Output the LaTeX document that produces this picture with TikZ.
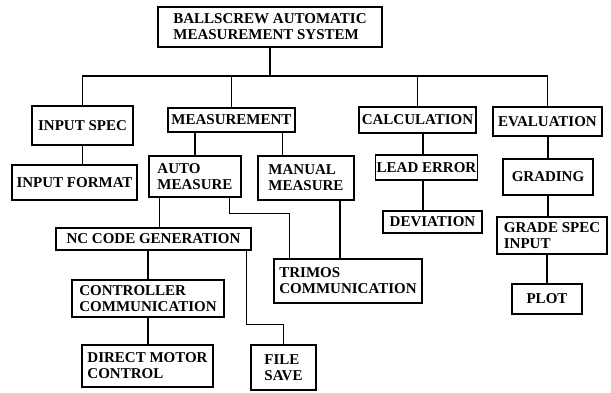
\documentclass[tikz,border=0pt]{standalone}
\usepackage{fontspec}
\setmainfont{Liberation Serif}
\usepackage{tikz}
\usetikzlibrary{calc}

\begin{document}
\begin{tikzpicture}[x=1pt,y=-1pt,font=\bfseries\fontsize{15}{16}\selectfont,line width=1.2pt,
	box/.style={draw,align=left,inner sep=1.5pt}]
	\useasboundingbox (0,0) rectangle (611,392);
	\node[box,minimum width=224,minimum height=40] (ballscrew) at (270,27) {BALLSCREW AUTOMATIC\\MEASUREMENT SYSTEM};
	\node[box,minimum width=101,minimum height=39] (inputspec) at (82.5,125.5) {INPUT SPEC};
	\node[box,minimum width=127,minimum height=24] (measurement) at (231.5,120) {MEASUREMENT};
	\node[box,minimum width=117,minimum height=26] (calculation) at (417.5,120) {CALCULATION};
	\node[box,minimum width=109,minimum height=29] (evaluation) at (547.5,121.5) {EVALUATION};
	\node[box,minimum width=125,minimum height=35] (inputformat) at (74.5,182.5) {INPUT FORMAT};
	\node[box,minimum width=92,minimum height=41] (automeasure) at (195,176.5) {AUTO\\MEASURE};
	\node[box,minimum width=96,minimum height=44] (manualmeasure) at (306,178) {MANUAL\\MEASURE};
	\node[box,minimum width=99,minimum height=25] (leaderror) at (426.5,167.5) {LEAD ERROR};
	\node[box,minimum width=90,minimum height=36] (grading) at (548,177) {GRADING};
	\node[box,minimum width=99,minimum height=22] (deviation) at (432.5,222) {DEVIATION};
	\node[box,minimum width=110,minimum height=37] (gradespec) at (552,235.5) {GRADE SPEC\\INPUT};
	\node[box,minimum width=70,minimum height=30] (plot) at (547,299) {PLOT};
	\node[box,minimum width=148,minimum height=44] (trimos) at (348,281) {TRIMOS\\COMMUNICATION};
	\node[box,minimum width=195,minimum height=22] (nccode) at (153.5,239) {NC CODE GENERATION};
	\node[box,minimum width=152,minimum height=37] (controller) at (148,298.5) {CONTROLLER\\COMMUNICATION};
	\node[box,minimum width=131,minimum height=42] (motor) at (147.5,366) {DIRECT MOTOR\\CONTROL};
	\node[box,minimum width=65,minimum height=45] (filesave) at (283.5,367.5) {FILE\\SAVE};
	% tree lines
	\coordinate (bus) at (0,76);
	\coordinate (meas2) at ([xshift=-13pt]measurement.south east);
	\coordinate (manual2) at ([xshift=-8pt]trimos.north);
	\coordinate (auto1) at ([xshift=11pt]automeasure.south west);
	\coordinate (auto2) at ([xshift=-12pt]automeasure.south east);
	\coordinate (trimos2) at ([xshift=16pt]trimos.north west);
	\coordinate (nc2) at ([xshift=-5pt]nccode.south east);
	\coordinate (calc1) at ([xshift=5.5pt]calculation.south);
	\coordinate (lead1) at ([xshift=-3.5pt]leaderror.south);
	\draw (ballscrew.south)--(ballscrew.south |- bus);
	\draw (inputspec.north)--(inputspec.north |- bus)--(evaluation.north |- bus)--(evaluation.north);
	\draw (measurement.north)--(measurement.north |- bus);
	\draw (calculation.north)--(calculation.north |- bus);
	\draw (inputspec.south)--(inputspec.south |- inputformat.north);
	\draw (automeasure.north)--(automeasure.north |- measurement.south);
	\draw (meas2)--(meas2 |- manualmeasure.north);
	\draw (manual2)--(manual2 |- manualmeasure.south);
	\draw (auto2)--++(0,16)-|(trimos2);
	\draw (auto1)--(auto1 |- nccode.north);
	\draw (controller.north)--(controller.north |- nccode.south);
	\draw (controller.south)--(controller.south |- motor.north);
	\draw (nc2)--++(0,74)-|(filesave.north);
	\draw (calc1)--(calc1 |- leaderror.north);
	\draw (lead1)--(lead1 |- deviation.north);
	\draw (grading.north)--(grading.north |- evaluation.south);
	\draw (grading.south)--(grading.south |- gradespec.north);
	\draw (plot.north)--(plot.north |- gradespec.south);
\end{tikzpicture}
\end{document}
